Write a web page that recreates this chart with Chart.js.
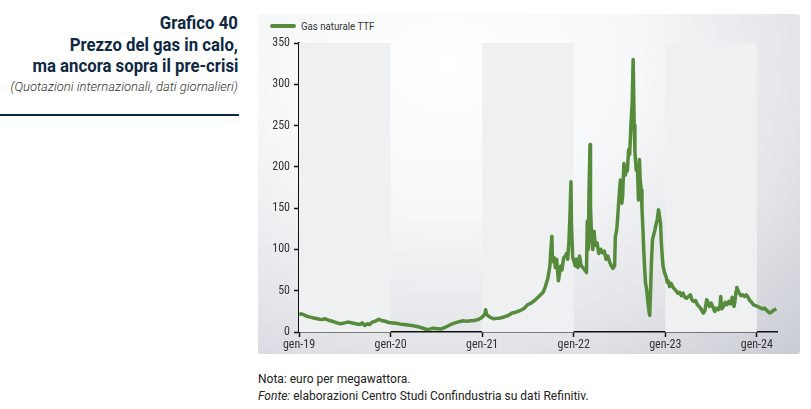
<!DOCTYPE html>
<html>
<head>
<meta charset="utf-8">
<script src="https://cdn.jsdelivr.net/npm/chart.js@4/dist/chart.umd.min.js"></script>
<style>
    body { margin: 0; width: 811px; height: 409px; background: #ffffff; position: relative; overflow: hidden; font-family: Roboto, sans-serif; }
    .title { position: absolute; right: 573px; text-align: right; color: #0e2841; font-weight: 700; font-size: 18px; white-space: nowrap; transform: scaleX(0.93); transform-origin: right center; line-height: 21px; }
    .subtitle { position: absolute; right: 573px; top: 79px; font-style: italic; font-weight: 300; font-size: 13px; color: #333; white-space: nowrap; }
    .rule { position: absolute; left: 0; top: 114px; width: 239px; height: 2px; background: #0e2841; }
    .panel { position: absolute; left: 258px; top: 14px; width: 542px; height: 340px; border-radius: 3px;
        background: radial-gradient(ellipse 95% 120% at 35% 15%, #ffffff 0%, #f7f8f9 35%, #e2e4e8 70%, #c7cad2 100%); }
    .legend { position: absolute; left: 270px; top: 19px; font-size: 11px; color: #333; white-space: nowrap; }
    .legend .sw { display: inline-block; width: 26px; height: 4px; border-radius: 2px; background: #558b3a; vertical-align: middle; margin-right: 5px; }
    .legend span.t { display: inline-block; transform: scaleX(0.88); transform-origin: left center; vertical-align: middle; }
    .note { position: absolute; left: 258px; font-size: 12px; color: #222; white-space: nowrap; }
    #chartLoc { position: absolute; left: 258px; top: 14px; }
</style>
</head>
<body>
<div class="title" style="top: 12px;">Grafico 40</div>
<div class="title" style="top: 34px;">Prezzo del gas in calo,</div>
<div class="title" style="top: 55px;">ma ancora sopra il pre-crisi</div>
<div class="subtitle">(Quotazioni internazionali, dati giornalieri)</div>
<div class="rule"></div>

<div class="panel"></div>
<div class="legend"><span class="sw"></span><span class="t">Gas naturale TTF</span></div>
<canvas id="chartLoc" width="542" height="340"></canvas>

<div class="note" style="top: 372px;">Nota: euro per megawattora.</div>
<div class="note" style="top: 389px;"><i>Fonte:</i> elaborazioni Centro Studi Confindustria su dati Refinitiv.</div>

<script>
// Gas naturale TTF, euro/MWh
const ttfDates = [
    '2019-01-02','2019-01-10','2019-01-20','2019-02-01','2019-02-15','2019-03-01','2019-03-15','2019-04-01','2019-04-15','2019-05-01',
    '2019-05-15','2019-06-01','2019-06-15','2019-07-01','2019-07-15','2019-08-01','2019-08-15','2019-09-01','2019-09-10','2019-09-20',
    '2019-10-01','2019-10-10','2019-10-20','2019-11-01','2019-11-15','2019-11-25','2019-12-10','2019-12-25',
    '2020-01-10','2020-01-25','2020-02-10','2020-02-25','2020-03-10','2020-03-25','2020-04-10','2020-04-25','2020-05-10','2020-05-25',
    '2020-06-05','2020-06-20','2020-07-05','2020-07-20','2020-08-01','2020-08-15','2020-09-01','2020-09-15','2020-10-01','2020-10-15',
    '2020-11-01','2020-11-15','2020-12-01','2020-12-15','2020-12-28',
    '2021-01-05','2021-01-12','2021-01-15','2021-01-19','2021-02-01','2021-02-15','2021-03-01','2021-03-15','2021-04-01','2021-04-15',
    '2021-05-01','2021-05-15','2021-06-01','2021-06-15','2021-07-01','2021-07-15','2021-08-01','2021-08-15','2021-09-01','2021-09-10',
    '2021-09-20','2021-09-28','2021-10-01','2021-10-06','2021-10-08','2021-10-12','2021-10-15','2021-10-20','2021-10-25','2021-11-01',
    '2021-11-05','2021-11-10','2021-11-15','2021-11-22','2021-11-29','2021-12-03','2021-12-08','2021-12-13','2021-12-17','2021-12-21',
    '2021-12-23','2021-12-28',
    '2022-01-03','2022-01-07','2022-01-12','2022-01-18','2022-01-24','2022-01-31','2022-02-07','2022-02-14','2022-02-21','2022-02-24',
    '2022-02-28','2022-03-03','2022-03-07','2022-03-09','2022-03-14','2022-03-18','2022-03-23','2022-03-28','2022-04-04','2022-04-11',
    '2022-04-19','2022-04-25','2022-05-03','2022-05-10','2022-05-17','2022-05-24','2022-05-31','2022-06-07','2022-06-13','2022-06-16',
    '2022-06-22','2022-06-30','2022-07-06','2022-07-12','2022-07-15','2022-07-20','2022-07-26','2022-07-29','2022-08-03','2022-08-08',
    '2022-08-12','2022-08-17','2022-08-22','2022-08-26','2022-08-30','2022-09-02','2022-09-07','2022-09-12','2022-09-16','2022-09-20',
    '2022-09-23','2022-09-27','2022-09-30','2022-10-04','2022-10-07','2022-10-11','2022-10-14','2022-10-19','2022-10-24','2022-10-28',
    '2022-10-31','2022-11-03','2022-11-07','2022-11-11','2022-11-16','2022-11-21','2022-11-25','2022-11-30','2022-12-05','2022-12-09',
    '2022-12-13','2022-12-16','2022-12-20','2022-12-23','2022-12-29',
    '2023-01-04','2023-01-09','2023-01-13','2023-01-18','2023-01-24','2023-01-30','2023-02-06','2023-02-13','2023-02-20','2023-02-27',
    '2023-03-06','2023-03-13','2023-03-20','2023-03-27','2023-04-03','2023-04-11','2023-04-17','2023-04-24','2023-05-02','2023-05-09',
    '2023-05-16','2023-05-23','2023-05-30','2023-06-02','2023-06-08','2023-06-15','2023-06-20','2023-06-26','2023-07-03','2023-07-10',
    '2023-07-17','2023-07-24','2023-07-31','2023-08-07','2023-08-10','2023-08-14','2023-08-21','2023-08-28','2023-09-04','2023-09-11',
    '2023-09-18','2023-09-25','2023-10-02','2023-10-06','2023-10-10','2023-10-13','2023-10-18','2023-10-23','2023-10-30','2023-11-06',
    '2023-11-13','2023-11-20','2023-11-27','2023-12-04','2023-12-11','2023-12-18','2023-12-27',
    '2024-01-03','2024-01-10','2024-01-17','2024-01-24','2024-01-31','2024-02-07','2024-02-14','2024-02-21','2024-02-28','2024-03-06',
    '2024-03-13','2024-03-19'
];
const ttfValues = [
    21, 22, 21, 19, 18, 17, 16, 15, 16, 14,
    13, 11, 10, 11, 12, 11, 10, 9, 11, 8,
    10, 9, 12, 13, 15.5, 14, 13, 11.5,
    11, 10.5, 9.5, 9, 8.5, 8, 7, 6, 4.5, 3,
    3.5, 4.5, 4, 3.5, 5, 7, 9.5, 11, 12.5, 13.5,
    13, 13.5, 14, 15, 17,
    19, 22, 27, 21, 18, 16, 16.5, 17, 18.5, 20,
    23, 24, 26, 28, 33, 35, 39, 43, 48, 55,
    65, 80, 95, 116, 90, 85, 90, 78, 88, 62,
    70, 80, 75, 90, 92, 95, 88, 110, 140, 182,
    130, 90,
    85, 80, 88, 78, 92, 80, 78, 75, 72, 134,
    100, 170, 227, 150, 110, 100, 122, 105, 108, 95,
    100, 96, 98, 88, 92, 85, 80, 77, 80, 115,
    125, 160, 184, 156, 165, 204, 190, 198, 195, 221,
    215, 250, 277, 330, 250, 218, 196, 200, 160, 209,
    185, 172, 150, 124, 100, 75, 60, 51, 35, 25,
    20, 47, 85, 112, 118, 124, 130, 136, 148, 140,
    132, 110, 91, 80, 72,
    67, 60, 62, 55, 59, 55, 52, 50, 47, 48,
    44, 47, 42, 41, 43, 45, 39, 37, 38, 33,
    31, 28, 24, 23, 26, 39, 36, 31, 35, 30,
    25, 29, 27, 31, 43, 28, 31, 36, 33, 37,
    34, 42, 31, 38, 49, 54, 50, 47, 44, 45,
    43, 45, 42, 38, 36, 33, 32,
    31, 30, 29, 28, 29, 27, 25, 23, 24, 26,
    27, 28
];
const tickYears = [2019, 2020, 2021, 2022, 2023, 2024];
const tickLabels = ['gen-19', 'gen-20', 'gen-21', 'gen-22', 'gen-23', 'gen-24'];
const shadedYears = [2019, 2021, 2023];

// date string -> decimal year for the linear x scale
function toYear(d) {
    var p = d.split('-').map(Number);
    var start = Date.UTC(p[0], 0, 1);
    var end = Date.UTC(p[0] + 1, 0, 1);
    return p[0] + (Date.UTC(p[0], p[1] - 1, p[2]) - start) / (end - start);
}

var points = ttfDates.map((d, i) => ({ x: toYear(d), y: ttfValues[i] }));

// grey bands behind odd years
const yearBands = {
    id: 'yearBands',
    beforeDatasetsDraw(chart) {
        var ctx = chart.ctx, area = chart.chartArea, xs = chart.scales.x;
        ctx.save();
        ctx.fillStyle = '#eef0f2';
        shadedYears.forEach(y => {
            var x0 = Math.max(xs.getPixelForValue(y), area.left);
            var x1 = Math.min(xs.getPixelForValue(y + 1), area.right);
            ctx.fillRect(x0, area.top, x1 - x0, area.bottom - area.top);
        });
        ctx.restore();
    }
};

var tickFont = { family: "'Liberation Sans Narrow', 'Roboto Condensed', Roboto, sans-serif", size: 12 };

var canvas = document.getElementById('chartLoc');
new Chart(canvas.getContext('2d'), {
    type: 'line',
    data: {
        datasets: [{
            label: 'Gas naturale TTF',
            data: points,
            borderColor: '#558b3a',
            borderWidth: 3.5,
            pointRadius: 0,
            tension: 0,
            borderJoinStyle: 'round',
            fill: false
        }]
    },
    options: {
        responsive: false,
        animation: false,
        layout: { padding: { top: 29, right: 23, left: 0, bottom: 0 } },
        plugins: { legend: { display: false }, tooltip: { enabled: false } },
        scales: {
            x: {
                type: 'linear',
                min: 2019,
                max: 2024.22,
                afterBuildTicks: s => { s.ticks = tickYears.map(v => ({ value: v })); },
                afterFit: s => { s.height = 22; },
                ticks: {
                    color: '#333',
                    font: tickFont,
                    padding: 1,
                    maxRotation: 0,
                    autoSkip: false,
                    callback: v => tickLabels[tickYears.indexOf(v)]
                },
                grid: { drawOnChartArea: false, drawTicks: true, tickLength: 5, tickColor: '#111', tickWidth: 1.5 },
                border: { display: true, color: '#111', width: 1.5 }
            },
            y: {
                min: 0,
                max: 350,
                afterFit: s => { s.width = 41; },
                ticks: { stepSize: 50, color: '#333', font: tickFont, padding: 4 },
                grid: { drawOnChartArea: false, drawTicks: true, tickLength: 5, tickColor: '#111', tickWidth: 1.5 },
                border: { display: true, color: '#111', width: 1.5 }
            }
        }
    },
    plugins: [yearBands]
});
</script>
</body>
</html>
